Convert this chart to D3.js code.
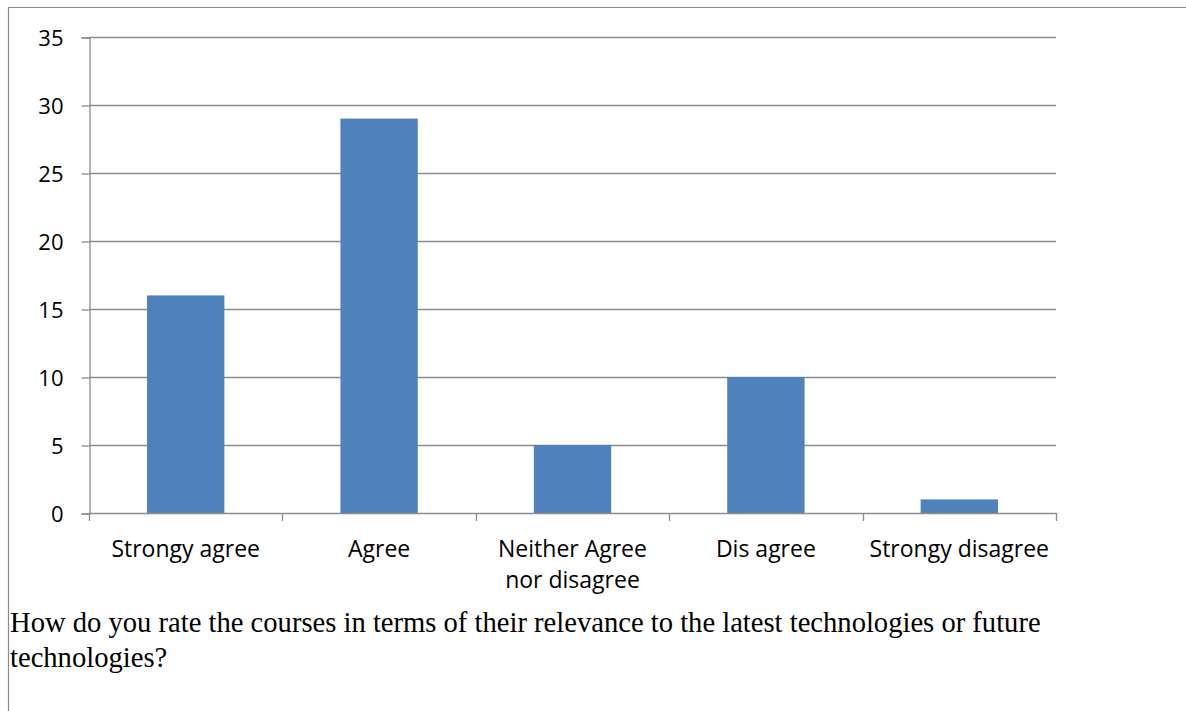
<!DOCTYPE html>
<html>
<head>
<meta charset="utf-8">
<script src="https://cdn.jsdelivr.net/npm/d3@7"></script>
<style>
  html, body { margin: 0; padding: 0; background: #fff; }
  svg { display: block; }
</style>
</head>
<body>
<svg id="chart" width="1186" height="711"></svg>
<script>
// Survey responses
const categories = ["Strongy agree", "Agree", "Neither Agree\nnor disagree", "Dis agree", "Strongy disagree"];
const counts = [16, 29, 5, 10, 1];
const yTicks = [0, 5, 10, 15, 20, 25, 30, 35];
const captionLines = [
  "How do you rate the courses in terms of their relevance to the latest technologies or future",
  "technologies?"
];

const svg = d3.select("#chart");
const plot = { left: 89, right: 1056, top: 37, bottom: 513 };
const gridColor = "#8c8c8c";
const labelFont = "'Open Sans', 'Noto Sans', sans-serif";

// Frame lines around the figure cell
svg.append("line").attr("x1", 8.5).attr("x2", 1186).attr("y1", 7.5).attr("y2", 7.5)
  .attr("stroke", "#8a8a8a").attr("stroke-width", 1.2);
svg.append("line").attr("x1", 8.5).attr("x2", 8.5).attr("y1", 7).attr("y2", 711)
  .attr("stroke", "#8a8a8a").attr("stroke-width", 1.2);

const x = d3.scaleBand().domain(categories).range([plot.left, plot.right])
  .paddingInner(0.6).paddingOuter(0.3);
const xTicksScale = d3.scaleLinear().domain([0, categories.length]).range([plot.left, plot.right]);
const y = d3.scaleLinear().domain([0, 35]).range([plot.bottom, plot.top]);

// Horizontal gridlines
svg.append("g").selectAll("line").data(yTicks.filter(d => d > 0)).join("line")
  .attr("x1", plot.left).attr("x2", plot.right)
  .attr("y1", d => Math.round(y(d)) + 0.5).attr("y2", d => Math.round(y(d)) + 0.5)
  .attr("stroke", gridColor).attr("stroke-width", 1.3);

// Y axis
const yAxis = svg.append("g").attr("transform", `translate(${plot.left + 0.5},0.5)`)
  .call(d3.axisLeft(y).tickValues(yTicks).tickSize(8).tickPadding(18).tickFormat(d3.format("d")));
yAxis.attr("font-size", null).attr("font-family", null);
yAxis.select(".domain").attr("stroke", gridColor).attr("stroke-width", 1.3);
yAxis.selectAll(".tick line").attr("stroke", gridColor).attr("stroke-width", 1.3);
yAxis.selectAll(".tick text").attr("dy", "0.36em")
  .style("font-family", labelFont).style("font-size", "22px")
  .attr("fill", "#000");

// Bars
svg.append("g").selectAll("rect").data(counts).join("rect")
  .attr("x", (d, i) => x(categories[i]))
  .attr("width", x.bandwidth())
  .attr("y", d => y(d))
  .attr("height", d => y(0) - y(d))
  .attr("fill", "#4f81bd");

// X axis baseline and tick marks at category boundaries
svg.append("line").attr("x1", plot.left).attr("x2", plot.right)
  .attr("y1", plot.bottom + 0.5).attr("y2", plot.bottom + 0.5)
  .attr("stroke", gridColor).attr("stroke-width", 1.3);
svg.append("g").selectAll("line").data(d3.range(categories.length + 1)).join("line")
  .attr("x1", d => Math.round(xTicksScale(d)) + 0.5).attr("x2", d => Math.round(xTicksScale(d)) + 0.5)
  .attr("y1", plot.bottom).attr("y2", plot.bottom + 8)
  .attr("stroke", gridColor).attr("stroke-width", 1.3);

// Category labels
const xl = svg.append("g").selectAll("text").data(categories).join("text")
  .attr("x", d => x(d) + x.bandwidth() / 2)
  .attr("y", 557)
  .attr("text-anchor", "middle")
  .style("font-family", labelFont).style("font-size", "23px").attr("fill", "#000");
xl.each(function(d) {
  const t = d3.select(this);
  d.split("\n").forEach((line, i) => {
    t.append("tspan").attr("x", t.attr("x")).attr("dy", i === 0 ? 0 : 31).text(line);
  });
});

// Caption below the chart
svg.append("g").selectAll("text").data(captionLines).join("text")
  .attr("x", 10).attr("y", (d, i) => 632 + i * 35)
  .style("font-family", "'Liberation Serif', 'Times New Roman', serif")
  .style("font-size", "28.6px").attr("fill", "#000")
  .text(d => d);
</script>
</body>
</html>
